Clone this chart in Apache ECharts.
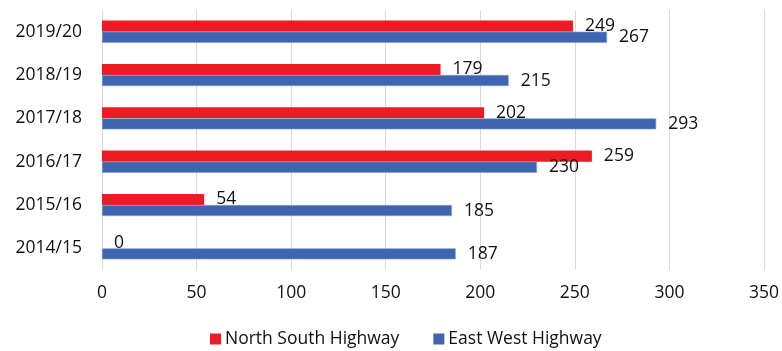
<!DOCTYPE html>
<html>
<head>
<meta charset="utf-8">
<script src="https://cdn.jsdelivr.net/npm/echarts@6/dist/echarts.min.js"></script>
<style>
html,body{margin:0;padding:0;background:#fff;}
#c{width:782px;height:351px;}
</style>
</head>
<body>
<div id="c"></div>
<script>
const categories = ['2014/15','2015/16','2016/17','2017/18','2018/19','2019/20'];
const northSouth = [0, 54, 259, 202, 179, 249];
const eastWest = [187, 185, 230, 293, 215, 267];
const xTicks = [0, 50, 100, 150, 200, 250, 300, 350];

const FONT = '"Open Sans", "Noto Sans", sans-serif';
const chart = echarts.init(document.getElementById('c'), null, {renderer: 'canvas'});
const lbl = {show: true, position: 'right', distance: 12, color: '#111', fontSize: 17.5, fontFamily: FONT};
chart.setOption({
  animation: false,
  backgroundColor: '#ffffff',
  grid: {left: 102, right: 18, top: 10, bottom: 81, containLabel: false},
  legend: {
    left: 210, top: 330, padding: 0,
    itemWidth: 11, itemHeight: 11, itemGap: 34,
    icon: 'rect',
    itemStyle: {borderWidth: 0},
    textStyle: {fontSize: 17.5, fontFamily: FONT, color: '#111', padding: [0, 0, 0, -1]},
    data: ['North South Highway', 'East West Highway']
  },
  xAxis: {
    type: 'value', min: xTicks[0], max: xTicks[xTicks.length - 1], interval: 50,
    axisLine: {show: false}, axisTick: {show: false},
    axisLabel: {fontSize: 17.5, fontFamily: FONT, color: '#111', margin: 14},
    splitLine: {show: true, lineStyle: {color: '#d9d9d9', width: 1}}
  },
  yAxis: {
    type: 'category', data: categories,
    axisLine: {show: false}, axisTick: {show: false},
    axisLabel: {fontSize: 17.5, fontFamily: FONT, color: '#111', margin: 20}
  },
  series: [
    {
      name: 'North South Highway', type: 'bar', data: northSouth,
      barGap: '0%', barCategoryGap: '49%',
      itemStyle: {color: '#ed1c24'},
      label: lbl
    },
    {
      name: 'East West Highway', type: 'bar', data: eastWest,
      barGap: '0%', barCategoryGap: '49%',
      itemStyle: {color: '#3f65b0', borderColor: '#7f9fd6', borderWidth: 0.6},
      label: lbl
    }
  ]
});
</script>
</body>
</html>
